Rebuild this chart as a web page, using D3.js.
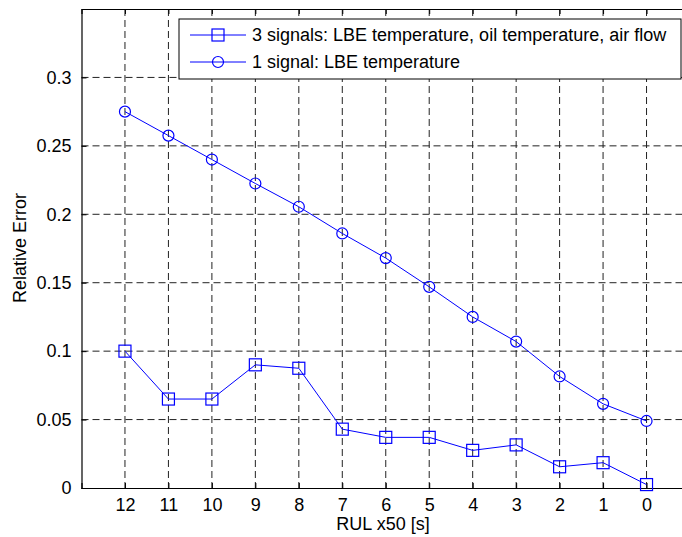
<!DOCTYPE html>
<html lang="en">
<head>
<meta charset="utf-8">
<script src="https://d3js.org/d3.v7.min.js"></script>
<style type="text/css">
body { margin: 0; background: #fff; }
svg { display: block; }
.grid line { stroke: #222; stroke-width: 1; stroke-dasharray: 7,4; }
.axis text { font: 18px "Liberation Sans", Arial, sans-serif; fill: #000; }
.axis path, .axis line { stroke: #000; fill: none; }
.series { fill: none; stroke: #0000ff; stroke-width: 1; }
.mark { fill: none; stroke: #0000ff; stroke-width: 1.2; }
.label { font: 18px "Liberation Sans", Arial, sans-serif; fill: #000; }
</style>
</head>
<body>
<script type="text/javascript">
// RUL x50 [s], from 12 down to 0
var rul = [12, 11, 10, 9, 8, 7, 6, 5, 4, 3, 2, 1, 0];
var threeSignals = [0.100, 0.065, 0.065, 0.090, 0.0875, 0.043, 0.037, 0.037, 0.0275, 0.0315, 0.0155, 0.0185, 0.0025];
var oneSignal = [0.275, 0.2575, 0.240, 0.2225, 0.2055, 0.186, 0.168, 0.147, 0.125, 0.107, 0.0815, 0.0615, 0.049];
var yTicks = [0, 0.05, 0.1, 0.15, 0.2, 0.25, 0.3];
var seriesNames = ["3 signals: LBE temperature, oil temperature, air flow", "1 signal: LBE temperature"];

var W = 682, H = 537;
var pLeft = 81.5, pRight = 690, pTop = 9, pBottom = 488;

var x = d3.scaleLinear().domain([13, -1]).range([pLeft, pRight]);
var y = d3.scaleLinear().domain([0, 0.35]).range([pBottom, pTop]);

var svg = d3.select("body").append("svg")
    .attr("width", W)
    .attr("height", H);

// dashed grid
var grid = svg.append("g").attr("class", "grid");
grid.selectAll(".vx").data(rul).enter().append("line")
    .attr("x1", function(d) { return x(d); })
    .attr("x2", function(d) { return x(d); })
    .attr("y1", pTop).attr("y2", pBottom);
grid.selectAll(".hy").data(yTicks.filter(function(d) { return d > 0; })).enter().append("line")
    .attr("y1", function(d) { return y(d); })
    .attr("y2", function(d) { return y(d); })
    .attr("x1", pLeft).attr("x2", pRight);

// axes with inward ticks
svg.append("g").attr("class", "axis")
    .attr("transform", "translate(0," + pBottom + ")")
    .call(d3.axisBottom(x).tickValues(rul).tickSize(-5).tickPadding(10).tickFormat(d3.format("d")));
svg.append("g").attr("class", "axis")
    .attr("transform", "translate(0," + pTop + ")")
    .call(d3.axisTop(x).tickValues(rul).tickSize(-5).tickFormat(""));
svg.append("g").attr("class", "axis")
    .attr("transform", "translate(" + pLeft + ",0)")
    .call(d3.axisLeft(y).tickValues(yTicks).tickSize(-5).tickPadding(10).tickFormat(function(d) { return String(+d.toFixed(2)); }));
svg.append("g").attr("class", "axis")
    .attr("transform", "translate(" + pRight + ",0)")
    .call(d3.axisRight(y).tickValues(yTicks).tickSize(-5).tickFormat(""));
svg.selectAll(".axis .domain").attr("stroke-width", 1.2);

// lines
var line = d3.line().x(function(d, i) { return x(rul[i]); }).y(function(d) { return y(d); });
svg.append("path").datum(threeSignals).attr("class", "series").attr("d", line);
svg.append("path").datum(oneSignal).attr("class", "series").attr("d", line);

svg.selectAll(".sq").data(threeSignals).enter().append("rect")
    .attr("class", "mark")
    .attr("x", function(d, i) { return x(rul[i]) - 6; })
    .attr("y", function(d) { return y(d) - 6; })
    .attr("width", 12).attr("height", 12);

svg.selectAll(".ci").data(oneSignal).enter().append("circle")
    .attr("class", "mark")
    .attr("cx", function(d, i) { return x(rul[i]); })
    .attr("cy", function(d) { return y(d); })
    .attr("r", 5.5);

// axis labels
svg.append("text").attr("class", "label")
    .attr("x", 383).attr("y", 530)
    .attr("text-anchor", "middle")
    .text("RUL x50 [s]");
svg.append("text").attr("class", "label")
    .attr("transform", "translate(26,248) rotate(-90)")
    .attr("text-anchor", "middle")
    .text("Relative Error");

// legend
var legend = svg.append("g").attr("transform", "translate(179,19)");
legend.append("rect")
    .attr("width", 502).attr("height", 60)
    .attr("fill", "#fff").attr("stroke", "#000").attr("stroke-width", 1);
seriesNames.forEach(function(name, i) {
  var row = legend.append("g").attr("transform", "translate(0," + (16 + i * 27) + ")");
  row.append("line").attr("class", "series").attr("x1", 11).attr("x2", 67).attr("y1", 0).attr("y2", 0);
  if (i === 0) {
    row.append("rect").attr("class", "mark").attr("x", 33).attr("y", -6).attr("width", 12).attr("height", 12);
  } else {
    row.append("circle").attr("class", "mark").attr("cx", 39).attr("cy", 0).attr("r", 5.5);
  }
  row.append("text").attr("class", "label")
      .attr("x", 73).attr("y", 6)
      .text(name);
});
</script>
</body>
</html>
